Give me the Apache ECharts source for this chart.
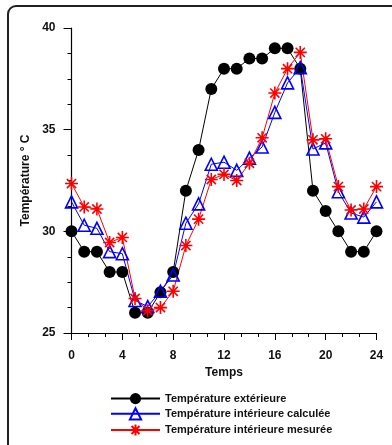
<!DOCTYPE html>
<html>
<head>
<meta charset="utf-8">
<script src="https://cdn.jsdelivr.net/npm/echarts@6/dist/echarts.min.js"></script>
<style>
  html, body { margin: 0; padding: 0; background: #fff; }
  #main { width: 392px; height: 445px; }
</style>
</head>
<body>
<div id="main"></div>
<script>
// heures
var hours = [0, 1, 2, 3, 4, 5, 6, 7, 8, 9, 10, 11, 12, 13, 14, 15, 16, 17, 18, 19, 20, 21, 22, 23, 24]
// température extérieure
var tExt = [30, 29, 29, 28, 28, 26, 26, 27, 28, 32, 34, 37, 38, 38, 38.5, 38.5, 39, 39, 38, 32, 31, 30, 29, 29, 30]
// température intérieure calculée
var tCalc = [31.45, 30.3, 30.15, 29.0, 28.9, 26.6, 26.3, 27.05, 27.85, 30.4, 31.35, 33.3, 33.4, 33.0, 33.6, 34.15, 35.85, 37.3, 38.05, 34.05, 34.35, 31.95, 30.9, 30.7, 31.45]
// température intérieure mesurée
var tMes = [32.35, 31.2, 31.1, 29.45, 29.7, 26.7, 26.1, 26.25, 27.05, 29.3, 30.6, 32.55, 32.8, 32.5, 33.35, 34.6, 36.8, 38.0, 38.8, 34.5, 34.55, 32.2, 31.05, 31.1, 32.2]
var xTicks = [0, 4, 8, 12, 16, 20, 24]
var yTicks = [25, 30, 35, 40]

function pairs(vals) {
  return hours.map(function (h, i) { return [h, vals[i]] })
}

// astérisque (traits seulement)
var starPath = 'path://M0,-10L0,10M-10,0L10,0M-7.07,-7.07L7.07,7.07M-7.07,7.07L7.07,-7.07'

var font = 'Liberation Sans, Arial, sans-serif'
var myChart = echarts.init(document.getElementById('main'))

var option = {
  animation: false,
  textStyle: { fontFamily: font },
  graphic: [{
    type: 'rect',
    shape: { x: 8, y: 6, width: 430, height: 470, r: 8 },
    style: { fill: 'none', stroke: '#222', lineWidth: 2 },
    silent: true
  }],
  grid: { left: 71.5, right: 15.5, top: 28, bottom: 112 },
  legend: {
    orient: 'vertical',
    left: 110,
    top: 393,
    padding: 0,
    itemWidth: 49,
    itemHeight: 14,
    itemGap: 3,
    textStyle: { fontFamily: font, fontWeight: 'bold', fontSize: 11, color: '#111' },
    data: ['Température extérieure', 'Température intérieure calculée', 'Température intérieure mesurée']
  },
  xAxis: {
    type: 'value',
    min: xTicks[0],
    max: xTicks[xTicks.length - 1],
    interval: 4,
    name: 'Temps',
    nameLocation: 'middle',
    nameGap: 31,
    nameTextStyle: { fontFamily: font, fontWeight: 'bold', fontSize: 12, color: '#111' },
    axisLine: { lineStyle: { color: '#000', width: 1.2 } },
    axisTick: { inside: false, length: 7, lineStyle: { color: '#000' } },
    minorTick: { show: true, splitNumber: 3, length: 4, lineStyle: { color: '#000' } },
    axisLabel: { fontFamily: font, fontWeight: 'bold', fontSize: 12, color: '#111', margin: 17 },
    splitLine: { show: false }
  },
  yAxis: {
    type: 'value',
    min: yTicks[0],
    max: yTicks[yTicks.length - 1],
    interval: 5,
    name: 'Température ° C',
    nameLocation: 'middle',
    nameGap: 33,
    nameTextStyle: { fontFamily: font, fontWeight: 'bold', fontSize: 12, color: '#111' },
    axisLine: { show: true, lineStyle: { color: '#000', width: 1.2 } },
    axisTick: { show: true, inside: false, length: 8, lineStyle: { color: '#000' } },
    minorTick: { show: true, splitNumber: 4, length: 4, lineStyle: { color: '#000' } },
    axisLabel: { fontFamily: font, fontWeight: 'bold', fontSize: 12, color: '#111', margin: 16 },
    splitLine: { show: false }
  },
  series: [
    {
      name: 'Température extérieure',
      type: 'line',
      data: pairs(tExt),
      symbol: 'circle',
      symbolSize: 12,
      itemStyle: { color: '#000' },
      lineStyle: { color: '#000', width: 1 }
    },
    {
      name: 'Température intérieure calculée',
      type: 'line',
      data: pairs(tCalc),
      symbol: 'triangle',
      symbolSize: 12,
      itemStyle: { color: 'rgba(0,0,0,0)', borderColor: '#0000ff', borderWidth: 1.6 },
      lineStyle: { color: '#0000ff', width: 1 }
    },
    {
      name: 'Température intérieure mesurée',
      type: 'line',
      data: pairs(tMes),
      symbol: starPath,
      symbolSize: 13,
      itemStyle: { color: '#ff0000', borderColor: '#ff0000', borderWidth: 1.6 },
      lineStyle: { color: '#ff0000', width: 1 }
    }
  ]
}
myChart.setOption(option)
</script>
</body>
</html>
